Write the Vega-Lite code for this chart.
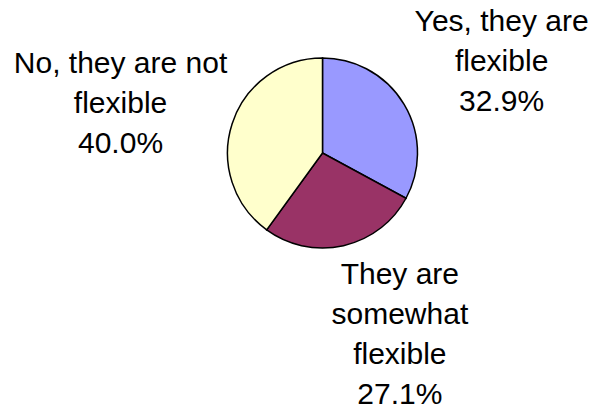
{
  "$schema": "https://vega.github.io/schema/vega-lite/v6.json",
  "autosize": "none",
  "width": 539,
  "height": 306,
  "padding": {"left": 53, "top": 0, "right": 0, "bottom": 104},
  "background": "white",
  "config": {"view": {"stroke": null}},
  "data": {
    "values": [
      {"category": "Yes, they are flexible", "rank": 1, "pct": 32.9, "label": "Yes, they are\nflexible\n32.9%"},
      {"category": "They are somewhat flexible", "rank": 2, "pct": 27.1, "label": "They are\nsomewhat\nflexible\n27.1%"},
      {"category": "No, they are not flexible", "rank": 3, "pct": 40.0, "label": "No, they are not\nflexible\n40.0%"}
    ]
  },
  "encoding": {
    "theta": {"field": "pct", "type": "quantitative", "stack": true},
    "order": {"field": "rank", "type": "ordinal"}
  },
  "layer": [
    {
      "mark": {"type": "arc", "radius": 95, "stroke": "black", "strokeWidth": 1.5},
      "encoding": {
        "color": {
          "field": "category",
          "type": "nominal",
          "scale": {
            "domain": ["Yes, they are flexible", "They are somewhat flexible", "No, they are not flexible"],
            "range": ["#9999FF", "#993366", "#FFFFCC"]
          },
          "legend": null
        }
      }
    },
    {
      "mark": {
        "type": "text", "radius": 205, "dx": 3, "dy": -26,
        "font": "Liberation Sans", "fontSize": 30, "lineHeight": 40, "lineBreak": "\n",
        "align": "center", "baseline": "middle", "color": "black"
      },
      "encoding": {"text": {"condition": {"test": "datum.rank == 1", "field": "label", "type": "nominal"}, "value": ""}}
    },
    {
      "mark": {
        "type": "text", "radius": 205, "dx": 32, "dy": -78,
        "font": "Liberation Sans", "fontSize": 30, "lineHeight": 40, "lineBreak": "\n",
        "align": "center", "baseline": "middle", "color": "black"
      },
      "encoding": {"text": {"condition": {"test": "datum.rank == 2", "field": "label", "type": "nominal"}, "value": ""}}
    },
    {
      "mark": {
        "type": "text", "radius": 205, "dx": -7, "dy": -26,
        "font": "Liberation Sans", "fontSize": 30, "lineHeight": 40, "lineBreak": "\n",
        "align": "center", "baseline": "middle", "color": "black"
      },
      "encoding": {"text": {"condition": {"test": "datum.rank == 3", "field": "label", "type": "nominal"}, "value": ""}}
    }
  ]
}
